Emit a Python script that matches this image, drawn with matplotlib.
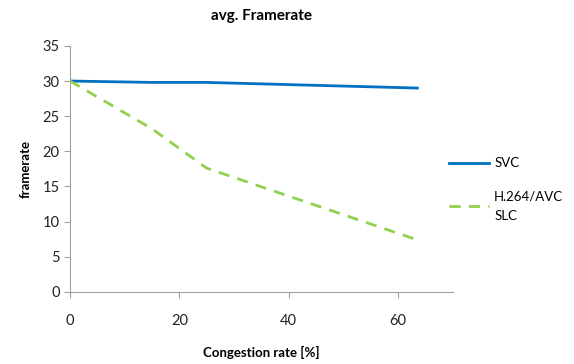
import matplotlib.pyplot as plt

plt.rcParams['font.family'] = ['Lato', 'DejaVu Sans']

# Daten
congestion = [0, 15, 25, 63.5]
svc = [30, 29.8, 29.8, 29.0]
avc_slc = [30, 23.2, 17.6, 7.4]

fig = plt.figure(figsize=(5.74, 3.64), dpi=100)
ax = fig.add_axes([0.122, 0.198, 0.667, 0.676])

ax.plot(congestion, svc, color='#0070C0', linewidth=2, label='SVC')
ax.plot(congestion, avc_slc, color='#92D050', linewidth=2, dashes=(4, 3),
        label='H.264/AVC\nSLC')

ax.set_xlim(0, 70)
ax.set_ylim(0, 35)
ax.set_xticks([0, 20, 40, 60])
ax.set_yticks(range(0, 36, 5))

for s in ['top', 'right']:
    ax.spines[s].set_visible(False)
for s in ['left', 'bottom']:
    ax.spines[s].set_color('#a0a0a0')
ax.tick_params(colors='#a0a0a0', labelcolor='#222222', labelsize=10.5, length=4)
ax.tick_params(axis='x', pad=12)

ax.set_xlabel('Congestion rate [%]', fontsize=9.5, fontweight='bold', labelpad=13)
ax.set_ylabel('framerate', fontsize=9.5, fontweight='bold', labelpad=8)
fig.suptitle('avg. Framerate', fontsize=11, fontweight='bold', x=0.455, y=0.975)

ax.legend(loc='upper left', bbox_to_anchor=(0.762, 0.6), bbox_transform=fig.transFigure,
          frameon=False, fontsize=9.5, handlelength=3.0, labelspacing=1.6,
          handletextpad=0.4)
for t in ax.get_legend().get_texts():
    t.set_linespacing(1.7)

fig.savefig('out.png', dpi=100)
